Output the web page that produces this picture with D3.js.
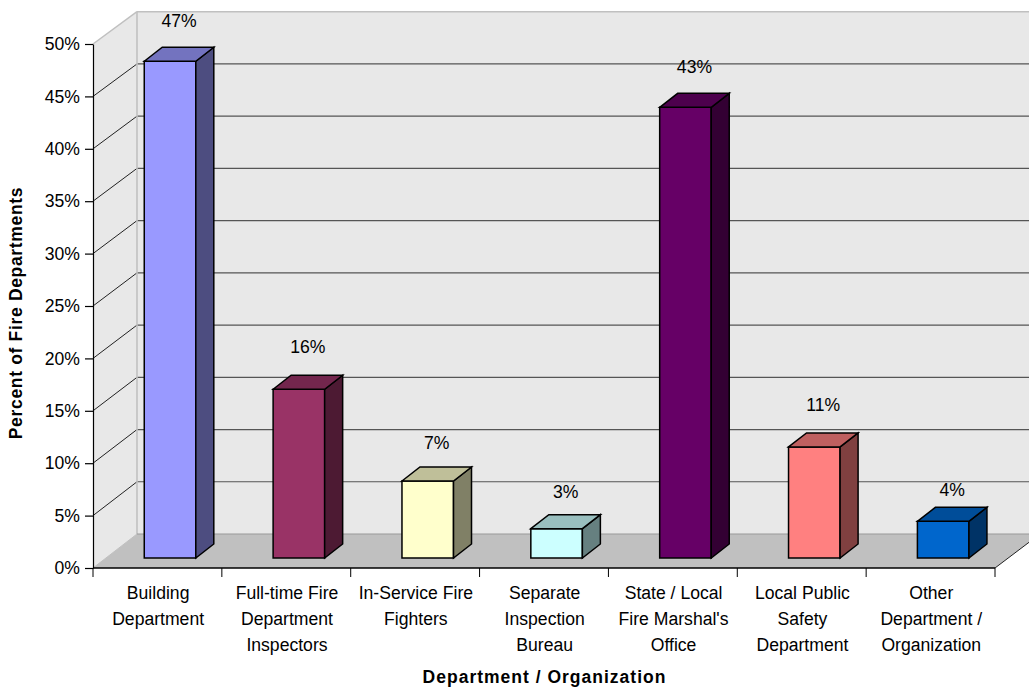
<!DOCTYPE html>
<html><head><meta charset="utf-8">
<script src="https://cdn.jsdelivr.net/npm/d3@7"></script>
<style>html,body{margin:0;padding:0;background:#fff;overflow:hidden}svg{display:block}text{font-family:"Liberation Sans",Arial,sans-serif;fill:#000}</style>
</head><body><svg id="c" width="1029" height="687"></svg>
<script>
const categories=[["Building","Department"],["Full-time Fire","Department","Inspectors"],["In-Service Fire","Fighters"],["Separate","Inspection","Bureau"],["State / Local","Fire Marshal's","Office"],["Local Public","Safety","Department"],["Other","Department /","Organization"]];
const values=[47.4,16.1,7.35,2.8,43,10.6,3.5];
const valueLabels=["47%","16%","7%","3%","43%","11%","4%"];
const frontColors=["#9999ff","#993366","#ffffcc","#ccffff","#660066","#ff8080","#0066cc"];
const sideColors=["#4d4d80","#4d1a33","#808066","#668080","#330033","#804040","#003366"];
const topColors=["#7373bf","#73264d","#bfbf99","#99bfbf","#4d004d","#bf6060","#004d99"];
const yTicks=[0,5,10,15,20,25,30,35,40,45,50];
const xTitle="Department / Organization", yTitle="Percent of Fire Departments";

const svg=d3.select("#c");
const L=93,R=995,B=568,T=44,DX=44;
const x=d3.scaleBand().domain(d3.range(values.length)).range([L,R]);
const y=d3.scaleLinear().domain([0,50]).range([B,T]);
const yBack=d3.scaleLinear().domain([0,50]).range([534,11.7]);
const poly=(pts,fill,stroke,sw)=>svg.append("polygon").attr("points",pts.map(p=>p.join(",")).join(" ")).attr("fill",fill).attr("stroke",stroke||"none").attr("stroke-width",sw||0);
const BL=L+DX, BR=1040, bt=yBack(50), bb=yBack(0);

poly([[L,T],[BL,bt],[BL,bb],[L,B]],"#e8e8e8");
poly([[BL,bt],[BR,bt],[BR,bb],[BL,bb]],"#e8e8e8");
poly([[L,B],[BL,bb],[BR,bb],[R,B]],"#c0c0c0");
yTicks.slice(1).forEach(t=>{
  svg.append("line").attr("x1",L).attr("y1",y(t)).attr("x2",BL).attr("y2",yBack(t)).attr("stroke",t===50?"#c0c0c0":"#222").attr("stroke-width",t===50?1.5:1);
  if(t<50) svg.append("line").attr("x1",BL).attr("y1",yBack(t)).attr("x2",1029).attr("y2",yBack(t)).attr("stroke","#555").attr("stroke-width",1.2);
});
svg.append("line").attr("x1",BL).attr("y1",bt).attr("x2",1029).attr("y2",bt).attr("stroke","#c0c0c0").attr("stroke-width",1.6);
svg.append("line").attr("x1",BL).attr("y1",bt).attr("x2",BL).attr("y2",bb).attr("stroke","#c0c0c0").attr("stroke-width",1.6);
svg.append("line").attr("x1",BL).attr("y1",bb).attr("x2",1029).attr("y2",bb).attr("stroke","#999").attr("stroke-width",1);
svg.append("line").attr("x1",L).attr("y1",B).attr("x2",BL).attr("y2",bb).attr("stroke","#c0c0c0").attr("stroke-width",1);
svg.append("line").attr("x1",R).attr("y1",B).attr("x2",BR).attr("y2",bb).attr("stroke","#222").attr("stroke-width",1);

const gy=svg.append("g").attr("transform",`translate(${L},0)`).call(d3.axisLeft(y).tickValues(yTicks).tickFormat(d=>d+"%").tickSize(8).tickSizeOuter(0));
gy.selectAll("text").attr("font-size",17.6).attr("dy",".32em").attr("x",-13).attr("fill","#000");
gy.selectAll("line,path").attr("stroke","#000").attr("stroke-width",1.2);
const gx=svg.append("g").attr("transform",`translate(0,${B})`).call(d3.axisBottom(x).tickValues([]).tickSizeOuter(0));
gx.select("path").attr("stroke","#000").attr("stroke-width",1.4).attr("d",`M${L},0H${R}`);
d3.range(values.length+1).forEach(i=>{
  const px=i<values.length?x(i):R;
  gx.append("line").attr("x1",px).attr("x2",px).attr("y1",0).attr("y2",9).attr("stroke","#000").attr("stroke-width",1);
});

const barW=x.bandwidth()*0.4, bx=18,by=14, fx=12.6,fy=10;
const lift=[21,23,19,18,21,23,12];
values.forEach((v,i)=>{
  const x0=x(i)+(x.bandwidth()-barW)/2+fx, x1=x0+barW, yb=y(0)-fy, yt=y(v)-fy;
  poly([[x0,yt],[x1,yt],[x1,yb],[x0,yb]],frontColors[i],"#000",1.5);
  poly([[x1,yt],[x1+bx,yt-by],[x1+bx,yb-by],[x1,yb]],sideColors[i],"#000",1.5);
  poly([[x0,yt],[x0+bx,yt-by],[x1+bx,yt-by],[x1,yt]],topColors[i],"#000",1.5);
  svg.append("text").attr("x",(x0+x1+bx)/2).attr("y",yt-by-lift[i]+1).attr("text-anchor","middle").attr("font-size",17.6).text(valueLabels[i]);
});

categories.forEach((lines,i)=>{
  const t=svg.append("text").attr("text-anchor","middle").attr("font-size",17.6);
  lines.forEach((s,j)=>t.append("tspan").attr("x",x(i)+x.bandwidth()/2+0.7).attr("y",599+j*26).text(s));
});
svg.append("text").attr("x",544.5).attr("y",682.5).attr("text-anchor","middle").attr("font-size",17.5).attr("font-weight","bold").attr("letter-spacing",1).text(xTitle);
svg.append("text").attr("transform","translate(22,313) rotate(-90)").attr("text-anchor","middle").attr("font-size",17.5).attr("font-weight","bold").attr("letter-spacing",0.67).text(yTitle);
</script></body></html>
